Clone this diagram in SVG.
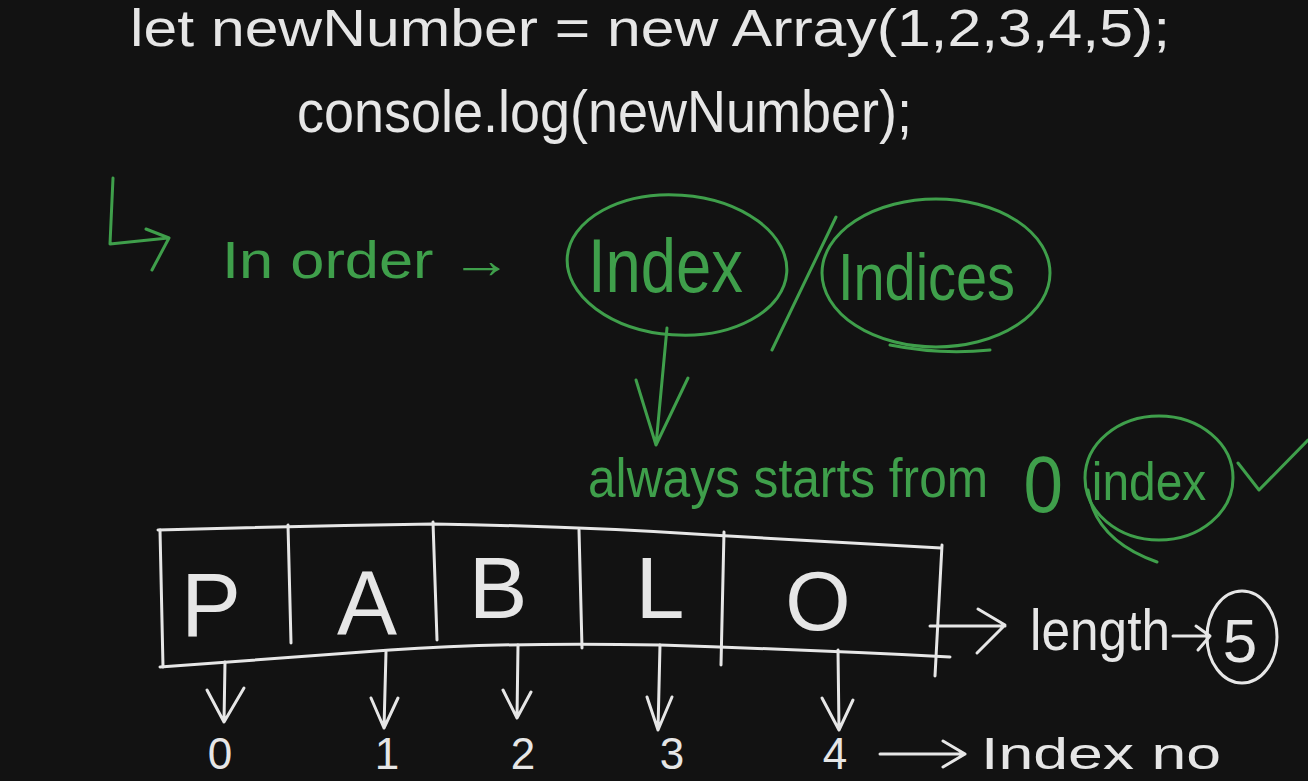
<svg xmlns="http://www.w3.org/2000/svg" width="1308" height="781" viewBox="0 0 1308 781">
<defs>
<style>
.w{fill:none;stroke:#e6e6e6;stroke-width:3;stroke-linecap:round;stroke-linejoin:round}
.g{fill:none;stroke:#3f9f4b;stroke-width:3;stroke-linecap:round;stroke-linejoin:round}
.tw{fill:#e6e6e6;font-family:"Liberation Sans",Arial,sans-serif}
.tg{fill:#3f9f4b;font-family:"Liberation Sans",Arial,sans-serif}
</style>
</defs>
<rect width="1308" height="781" fill="#121212"/>
<g id="code-line-1"><text class="tw" x="130" y="46" font-size="52" textLength="1040" lengthAdjust="spacingAndGlyphs">let  newNumber = new Array(1,2,3,4,5);</text></g>
<g id="code-line-2"><text class="tw" x="297" y="132" font-size="60" textLength="615" lengthAdjust="spacingAndGlyphs">console.log(newNumber);</text></g>
<g id="note-in-order">
<path class="g" d="M113,178 L110,244 L168,238 M146,229 L169,238 L152,270"/>
<text class="tg" x="222" y="278" font-size="52" textLength="290" lengthAdjust="spacingAndGlyphs">In order →</text>
</g>
<g id="index-term">
<ellipse class="g" cx="677" cy="265" rx="110" ry="70" transform="rotate(4 677 265)"/>
<text class="tg" x="588" y="292" font-size="76" textLength="155" lengthAdjust="spacingAndGlyphs">Index</text>
</g>
<g id="slash"><path class="g" d="M772,350 L836,217"/></g>
<g id="indices-term">
<ellipse class="g" cx="936" cy="273" rx="114" ry="74"/>
<path class="g" d="M890,345 Q940,355 990,350"/>
<text class="tg" x="838" y="300" font-size="66" textLength="177" lengthAdjust="spacingAndGlyphs">Indices</text>
</g>
<g id="starts-from-zero">
<text class="tg" transform="translate(588,497) scale(0.887,1)" font-size="56"><tspan x="0" y="0">always starts from</tspan><tspan x="491" y="15" font-size="80">0</tspan><tspan x="568" y="3" font-size="54">index</tspan></text>
<ellipse class="g" cx="1159" cy="478" rx="74" ry="62"/>
<path class="g" d="M1088,490 Q1095,540 1157,562"/>
<path class="g" d="M1238,463 L1259,490 L1308,440"/>
</g>
<g id="array-box">
<path class="w" d="M158,530 Q300,526 433,524 Q573,526 711,535 Q830,542 941,548"/>
<path class="w" d="M160,667 Q280,658 390,650 Q507,642 660,645 Q813,650 950,657"/>
<path class="w" d="M160,530 L163,667 M288,525 L291,643 M433,522 L437,640 M579,530 L582,648 M724,532 L721,665 M942,545 L935,676"/>
<text class="tw" x="211" y="636" font-size="90" text-anchor="middle">P</text>
<text class="tw" x="367" y="634" font-size="90" text-anchor="middle">A</text>
<text class="tw" x="498" y="618" font-size="88" text-anchor="middle">B</text>
<text class="tw" x="660" y="618" font-size="88" text-anchor="middle">L</text>
<text class="tw" x="818" y="630" font-size="84" text-anchor="middle">O</text>
</g>
<g id="length-label">
<text class="tw" x="1030" y="650" font-size="58" textLength="140" lengthAdjust="spacingAndGlyphs">length</text>
<ellipse class="w" cx="1242" cy="637" rx="35" ry="46"/>
<text class="tw" x="1240" y="662" font-size="62" text-anchor="middle">5</text>
</g>
<g id="index-numbers">
<text class="tw" x="220" y="769" font-size="44" text-anchor="middle">0</text>
<text class="tw" x="387" y="769" font-size="44" text-anchor="middle">1</text>
<text class="tw" x="523" y="769" font-size="44" text-anchor="middle">2</text>
<text class="tw" x="672" y="769" font-size="44" text-anchor="middle">3</text>
<text class="tw" x="835" y="769" font-size="44" text-anchor="middle">4</text>
<text class="tw" x="981" y="769" font-size="44" textLength="240" lengthAdjust="spacingAndGlyphs">Index no</text>
</g>
<g id="connectors">
<path class="g" d="M667,328 L656,445 M636,380 L656,445 L688,378"/>
<path class="w" d="M930,626 L1005,626 M978,609 L1005,625 L977,653"/>
<path class="w" d="M1173,636 L1210,636 M1196,626 L1210,636 L1198,650"/>
<path class="w" d="M225,662 L224,722 M207,690 L224,722 L244,688"/>
<path class="w" d="M386,652 L384,728 M371,698 L384,728 L398,698"/>
<path class="w" d="M518,645 L517,718 M503,690 L517,718 L531,692"/>
<path class="w" d="M660,645 L658,730 M647,697 L658,730 L672,697"/>
<path class="w" d="M838,650 L839,730 M822,698 L839,730 L853,700"/>
<path class="w" d="M880,754 L965,754 M943,741 L965,754 L943,767"/>
</g>
</svg>
